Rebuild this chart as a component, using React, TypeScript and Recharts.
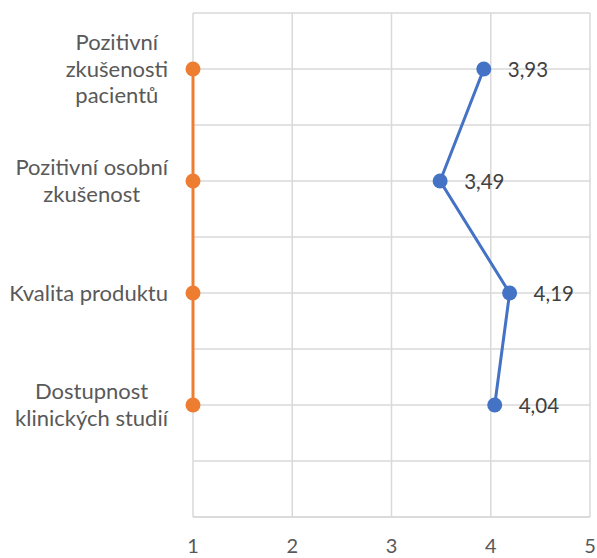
import React from "react";
import { ScatterChart, Scatter, XAxis, YAxis, CartesianGrid } from "recharts";

// category rows, top to bottom, already split into display lines
const categories = [
  ["Pozitivní", "zkušenosti", "pacientů"],
  ["Pozitivní osobní", "zkušenost"],
  ["Kvalita produktu"],
  ["Dostupnost", "klinických studií"],
];
const rowPositions = [4, 3, 2, 1];
const scores = [3.93, 3.49, 4.19, 4.04];
const baseline = [1, 1, 1, 1];
const xTicks = [1, 2, 3, 4, 5];
const yTicks = [0, 0.5, 1, 1.5, 2, 2.5, 3, 3.5, 4, 4.5];

const scoreData = scores.map((v, i) => ({ x: v, y: rowPositions[i] }));
const baseData = baseline.map((v, i) => ({ x: v, y: rowPositions[i] }));

const FONT = "Lato";
const TEXT_SIZE = 22;
const TICK_SIZE = 20;
const LABEL_SIZE = 20.5;
const LINE_H = 26.5;
const CAP_H = 15;
const AXIS_TEXT = "#595959";
const LABEL_TEXT = "#404040";
const BLUE = "#4472C4";
const ORANGE = "#ED7D31";

const ctx = document.createElement("canvas").getContext("2d");
const textWidth = (t: string) => {
  if (!ctx) return t.length * TEXT_SIZE * 0.5;
  ctx.font = `${TEXT_SIZE}px ${FONT}`;
  return ctx.measureText(t).width;
};

const CategoryTick = (props: any) => {
  const { x, y, payload } = props;
  const idx = rowPositions.indexOf(payload.value);
  if (idx < 0) return null;
  const lines = categories[idx];
  const blockW = Math.max(...lines.map(textWidth));
  const cx = x - blockW / 2;
  return (
    <text textAnchor="middle" fontFamily={FONT} fontSize={TEXT_SIZE} fill={AXIS_TEXT}>
      {lines.map((l, i) => (
        <tspan key={i} x={cx} y={y + CAP_H / 2 + (i - (lines.length - 1) / 2) * LINE_H}>
          {l}
        </tspan>
      ))}
    </text>
  );
};

const ValueTick = (props: any) => {
  const { x, y, payload } = props;
  return (
    <text x={x} y={y + 36} textAnchor="middle" fontFamily={FONT} fontSize={TICK_SIZE} fill={AXIS_TEXT}>
      {payload.value}
    </text>
  );
};

const makeDot = (color: string, withLabel: boolean) => (props: any) => {
  const { cx, cy, payload } = props;
  return (
    <g>
      <circle cx={cx} cy={cy} r={7.5} fill={color} />
      {withLabel && (
        <text x={cx + 24} y={cy + 7.5} fontFamily={FONT} fontSize={LABEL_SIZE} fill={LABEL_TEXT}>
          {payload.x.toFixed(2).replace(".", ",")}
        </text>
      )}
    </g>
  );
};

export default function App() {
  return (
    <div style={{ position: "absolute", left: 0, top: 0, background: "#fff" }}>
      <ScatterChart width={597} height={558} margin={{ top: 13, right: 7, bottom: 0, left: 10 }}>
        <CartesianGrid stroke="#d9d9d9" strokeWidth={1.5} />
        <XAxis
          type="number"
          dataKey="x"
          domain={[1, 5]}
          ticks={xTicks}
          height={41}
          tickSize={0}
          tickMargin={0}
          tickLine={false}
          axisLine={{ stroke: "#d9d9d9", strokeWidth: 1.5 }}
          tick={<ValueTick />}
        />
        <YAxis
          type="number"
          dataKey="y"
          domain={[0, 4.5]}
          ticks={yTicks}
          width={183}
          tickSize={0}
          tickMargin={25}
          tickLine={false}
          axisLine={false}
          interval={0}
          tick={<CategoryTick />}
        />
        <Scatter
          data={baseData}
          fill={ORANGE}
          line={{ stroke: ORANGE, strokeWidth: 3 }}
          lineType="joint"
          shape={makeDot(ORANGE, false)}
          isAnimationActive={false}
        />
        <Scatter
          data={scoreData}
          fill={BLUE}
          line={{ stroke: BLUE, strokeWidth: 3 }}
          lineType="joint"
          shape={makeDot(BLUE, true)}
          isAnimationActive={false}
        />
      </ScatterChart>
    </div>
  );
}
